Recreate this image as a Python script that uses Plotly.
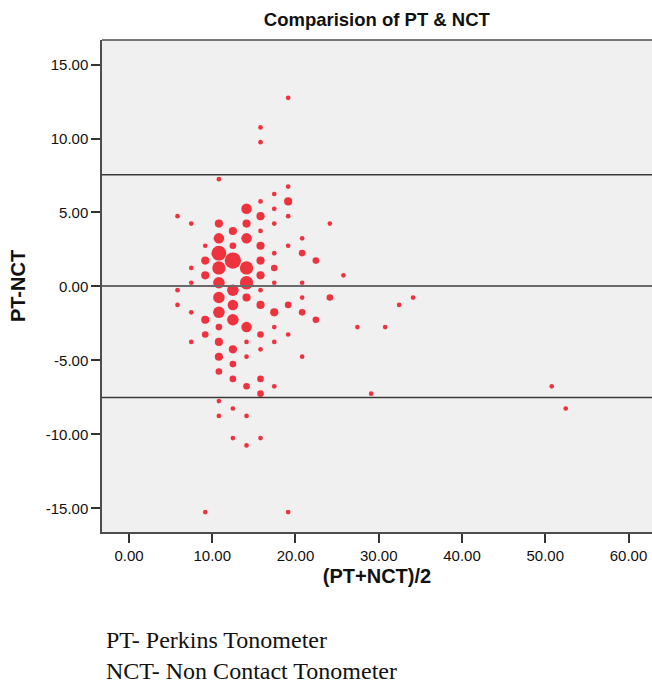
import numpy as np
import plotly.graph_objects as go

# Bland-Altman data: mean of the two readings, their difference,
# and how many patients share each point (drawn as bubble size)
avg_vals = [19.12, 15.80, 15.80, 10.80,
            19.12, 17.45, 15.80, 19.12, 14.12, 17.45,
            5.83, 15.80, 19.12,
            7.48, 10.80, 14.12, 17.45, 24.13,
            12.48, 15.80,
            10.80, 14.12, 20.80,
            9.16, 12.48, 15.80, 19.12,
            10.80, 17.45, 20.80,
            9.16, 12.48, 15.80, 22.45,
            7.48, 10.80, 14.12, 17.45,
            9.16, 15.80, 25.76,
            7.48, 10.80, 14.12, 17.45, 20.80,
            5.83, 12.48, 15.80,
            10.80, 14.12, 20.80, 24.13, 34.13,
            5.83, 12.48, 15.80, 19.12, 32.45,
            7.48, 10.80, 17.45, 20.80,
            9.16, 12.48, 22.45,
            10.80, 14.12, 17.45, 27.44, 30.77,
            9.16, 15.80, 19.12,
            7.48, 10.80, 14.12, 17.45,
            12.48, 15.80,
            10.80, 14.12, 20.80,
            12.48,
            10.80,
            12.48, 15.80,
            14.12, 17.45, 50.78,
            15.80, 29.09,
            10.80,
            12.48, 52.46,
            10.80, 14.12,
            12.48, 15.80,
            14.12,
            9.16, 19.12]

diff_vals = [12.75, 10.75, 9.75, 7.25,
             6.75, 6.25, 5.75, 5.75, 5.25, 5.25,
             4.75, 4.75, 4.75,
             4.25, 4.25, 4.25, 4.25, 4.25,
             3.75, 3.75,
             3.25, 3.25, 3.25,
             2.75, 2.75, 2.75, 2.75,
             2.25, 2.25, 2.25,
             1.75, 1.75, 1.75, 1.75,
             1.25, 1.25, 1.25, 1.25,
             0.75, 0.75, 0.75,
             0.25, 0.25, 0.25, 0.25, 0.25,
             -0.25, -0.25, -0.25,
             -0.75, -0.75, -0.75, -0.75, -0.75,
             -1.25, -1.25, -1.25, -1.25, -1.25,
             -1.75, -1.75, -1.75, -1.75,
             -2.25, -2.25, -2.25,
             -2.75, -2.75, -2.75, -2.75, -2.75,
             -3.25, -3.25, -3.25,
             -3.75, -3.75, -3.75, -3.75,
             -4.25, -4.25,
             -4.75, -4.75, -4.75,
             -5.25,
             -5.75,
             -6.25, -6.25,
             -6.75, -6.75, -6.75,
             -7.25, -7.25,
             -7.75,
             -8.25, -8.25,
             -8.75, -8.75,
             -10.25, -10.25,
             -10.75,
             -15.25, -15.25]

counts = [1, 1, 1, 1,
          1, 1, 1, 3, 5, 1,
          1, 3, 1,
          1, 3, 3, 1, 1,
          3, 1,
          5, 5, 1,
          1, 2, 3, 1,
          10, 1, 2,
          3, 12, 3, 2,
          1, 8, 8, 2,
          3, 3, 1,
          1, 6, 8, 1, 1,
          1, 6, 1,
          6, 3, 1, 2, 1,
          1, 5, 3, 2, 1,
          1, 6, 3, 2,
          3, 6, 2,
          2, 5, 1, 1, 1,
          2, 2, 1,
          1, 3, 1, 1,
          3, 1,
          3, 1, 1,
          2,
          2,
          2, 2,
          2, 1, 1,
          2, 1,
          1,
          1, 1,
          1, 1,
          1, 1,
          1,
          1, 1]

x_ticks = [0, 10, 20, 30, 40, 50, 60]
x_labels = ['0.00', '10.00', '20.00', '30.00', '40.00', '50.00', '60.00']
y_ticks = [-15, -10, -5, 0, 5, 10, 15]
y_labels = ['-15.00', '-10.00', '-5.00', '0.00', '5.00', '10.00', '15.00']

bias = 0.03
loa_upper = 7.55
loa_lower = -7.5

fig = go.Figure()

fig.add_trace(go.Scatter(
    x=avg_vals, y=diff_vals, mode='markers',
    marker=dict(size=4.7 * np.sqrt(counts), color='rgb(238,40,52)', opacity=0.95,
                line=dict(width=0)),
    hoverinfo='x+y', showlegend=False))

# mean difference and limits of agreement
for yv, col, w in [(loa_upper, '#3a3a3a', 1.5), (bias, '#6a6a6a', 2), (loa_lower, '#3a3a3a', 1.5)]:
    fig.add_shape(type='line', xref='paper', x0=0, x1=1, y0=yv, y1=yv,
                  line=dict(color=col, width=w), layer='above')

# top border of the plot frame
fig.add_shape(type='line', xref='paper', yref='paper', x0=0, x1=1, y0=1, y1=1,
              line=dict(color='#4d4d4d', width=1.5))

axis_font = dict(family='Liberation Sans, Arial', size=15, color='#111')
title_font = dict(family='Liberation Sans, Arial', size=20, color='#111')

fig.update_layout(
    width=652, height=685,
    margin=dict(l=102, r=0, t=40, b=153),
    paper_bgcolor='white', plot_bgcolor='#f0f0f0',
    title=dict(text='<b>Comparision of PT & NCT</b>', x=0.578, xanchor='center',
               y=0.972, yanchor='middle',
               font=dict(family='Liberation Sans, Arial', size=18.5, color='#111')),
    xaxis=dict(range=[-3.24, 62.82], tickvals=x_ticks, ticktext=x_labels,
               showgrid=False, zeroline=False, showline=True, linecolor='#4d4d4d', linewidth=1.5,
               ticks='outside', ticklen=9, tickwidth=1.5, tickcolor='#333', tickfont=axis_font,
               title=dict(text='<b>(PT+NCT)/2</b>', standoff=6, font=title_font)),
    yaxis=dict(range=[-16.6, 16.66], tickvals=y_ticks, ticktext=y_labels,
               showgrid=False, zeroline=False, showline=True, linecolor='#4d4d4d', linewidth=1.5,
               ticks='outside', ticklen=9, tickwidth=1.5, tickcolor='#333', tickfont=axis_font,
               title=dict(text='<b>PT-NCT</b>', standoff=15, font=title_font)),
)

notes = ['PT- Perkins Tonometer', 'NCT- Non Contact Tonometer']
for i, txt in enumerate(notes):
    fig.add_annotation(text=txt, xref='paper', yref='paper', x=0.004, y=-0.22 - i * 0.063,
                       xanchor='left', yanchor='middle', showarrow=False,
                       font=dict(family='Liberation Serif, Times New Roman', size=24, color='#111'))

fig.write_html("out.html", config={'displayModeBar': False},
               post_script="document.body.style.margin='0';")
